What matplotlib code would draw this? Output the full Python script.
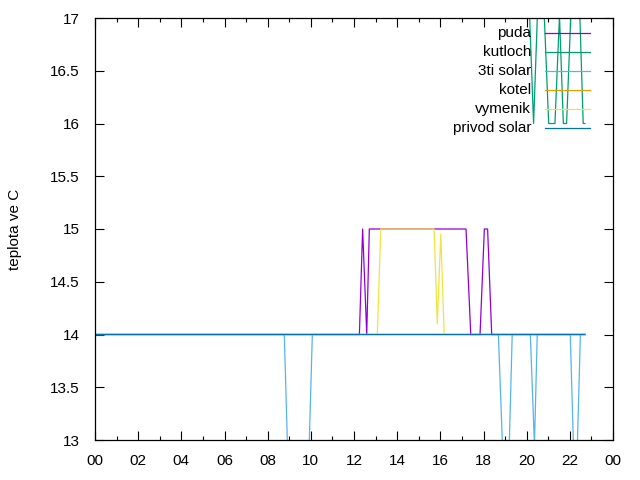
import matplotlib
matplotlib.use("Agg")
import matplotlib.pyplot as plt
from matplotlib.ticker import MultipleLocator, FuncFormatter

# ---- data: hours of day -> temperature (C) ----
puda_t = [0, 12.25, 12.40, 12.59, 12.71, 17.19, 17.41, 17.84, 18.04, 18.19, 18.38, 22.70]
puda_v = [14, 14, 15, 14, 15, 15, 14, 14, 15, 15, 14, 14]

kutloch_t = [0, 20.05, 20.32, 20.58, 20.72, 21.02, 21.31, 21.52, 21.70, 21.85, 22.04,
             22.13, 22.39, 22.62, 22.70]
kutloch_v = [17.5, 17.5, 16, 17.5, 17.5, 16, 16, 17.02, 16, 16, 17, 17.5, 17.5, 16, 16]

solar3_t = [0, 8.77, 9.05, 9.79, 10.07, 18.69, 19.05, 19.07, 19.33, 20.17, 20.36, 20.49,
            22.02, 22.26, 22.49, 22.70]
solar3_v = [14, 14, 12, 12, 14, 14, 12, 12, 14, 14, 12.95, 14, 14, 12.3, 14, 14]

kotel_t = [0, 22.70]
kotel_v = [14, 14]

vymenik_t = [0, 13.08, 13.24, 15.71, 15.86, 16.02, 16.18, 22.70]
vymenik_v = [14, 14, 15, 15, 14.1, 14.95, 14, 14]

privod_t = [0, 22.70]
privod_v = [14, 14]

names = ["puda", "kutloch", "3ti solar", "kotel", "vymenik", "privod solar"]
colors = ["#9400d3", "#009e73", "#56b4e9", "#e69f00", "#f0e442", "#0072b2"]
series = [(puda_t, puda_v), (kutloch_t, kutloch_v), (solar3_t, solar3_v),
          (kotel_t, kotel_v), (vymenik_t, vymenik_v), (privod_t, privod_v)]

plt.rcParams["font.family"] = ["Liberation Sans", "DejaVu Sans"]
plt.rcParams["font.size"] = 11

fig = plt.figure(figsize=(6.4, 4.8), dpi=100)
ax = fig.add_axes([95 / 640, 1 - 440 / 480, 518 / 640, 422 / 480])

for (t, v), c in zip(series, colors):
    ax.plot(t, v, color=c, lw=0.9, snap=False)

# gnuplot-style key: text right-aligned, sample to the right
for i, (name, c) in enumerate(zip(names, colors)):
    y = 0.9645 - i * 0.045
    ax.plot([0.869, 0.956], [y, y], color=c, lw=0.9, transform=ax.transAxes, clip_on=False)
    ax.text(0.842, y, name, ha="right", va="center", transform=ax.transAxes)

ax.set_xlim(0, 24)
ax.set_ylim(13, 17)
ax.xaxis.set_major_locator(MultipleLocator(2))
ax.xaxis.set_minor_locator(MultipleLocator(1))
ax.xaxis.set_major_formatter(FuncFormatter(lambda x, p: f"{int(x) % 24:02d}"))
ax.yaxis.set_major_locator(MultipleLocator(0.5))
ax.yaxis.set_major_formatter(FuncFormatter(lambda y, p: f"{y:g}"))
ax.tick_params(which="both", direction="in", top=True, right=True, width=0.8)
ax.tick_params(which="major", length=6.5)
ax.tick_params(axis="x", which="major", pad=10)
ax.tick_params(axis="y", which="major", pad=11)
ax.tick_params(which="minor", length=3.2)
ax.tick_params(axis="y", which="minor", left=False, right=False)
for s in ax.spines.values():
    s.set_linewidth(0.9)

ax.set_ylabel("teplota ve C", labelpad=20)

fig.savefig("out.png", dpi=100)
